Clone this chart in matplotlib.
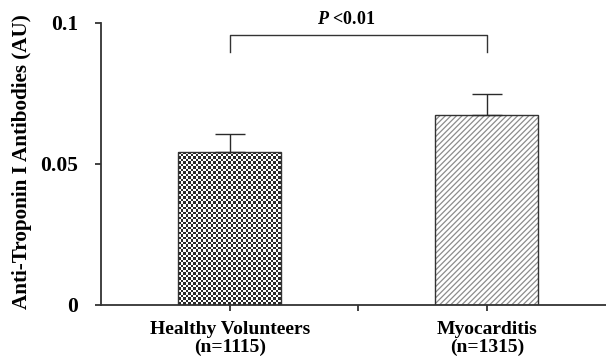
import numpy as np
import matplotlib
matplotlib.use("Agg")
import matplotlib.pyplot as plt

# Group means and upper standard errors (AU)
groups = ["Healthy Volunteers\n(n=1115)", "Myocarditis\n(n=1315)"]
means = [0.0543, 0.0673]
errors = [0.0063, 0.0076]
yticks = [0, 0.05, 0.1]
ytick_labels = ["0", "0.05", "0.1"]
p_label = r"$\mathbfit{P}$ <0.01"
bracket_top = 0.0956
bracket_leg = 0.0897

plt.rcParams["font.family"] = ["Liberation Serif", "DejaVu Serif"]
plt.rcParams["font.weight"] = "bold"
plt.rcParams["mathtext.fontset"] = "custom"
plt.rcParams["mathtext.bfit"] = "Liberation Serif:bold:italic"
plt.rcParams["hatch.linewidth"] = 0.9

fig = plt.figure(figsize=(6.06, 3.56), dpi=100)
ax = fig.add_axes([0.1667, 0.1433, 0.8490, 0.7921])

x = np.arange(len(groups))
bar_w = 0.4
edge = "#333333"

ax.set_xlim(-0.5, 1.5)
ax.set_ylim(0, 0.1)

# Base bars (white), the second one carries a gray diagonal hatch
bars = ax.bar(x, means, width=bar_w, color="white", edgecolor=["white", "#8c8c8c"],
              linewidth=0.0, zorder=2)
bars[1].set_hatch("//////")

# Checkerboard fill for the first bar, clipped to the bar outline
b0 = bars[0]
fig.canvas.draw()
px_x = 1.0 / (ax.transData.transform((1, 0))[0] - ax.transData.transform((0, 0))[0])
px_y = 0.1 / (ax.transData.transform((0, 0.1))[1] - ax.transData.transform((0, 0))[1])
cell = 2.5
nx = int(round(b0.get_width() / (px_x * cell)))
ny = int(round(b0.get_height() / (px_y * cell)))
board = (np.add.outer(np.arange(ny), np.arange(nx)) % 2).astype(float)
img = ax.imshow(board, cmap=matplotlib.colors.ListedColormap(["#2a2a2a", "white"]),
                extent=(b0.get_x(), b0.get_x() + b0.get_width(), 0, b0.get_height()),
                aspect="auto", interpolation="nearest", zorder=2.5, origin="lower")
img.set_clip_path(b0)

# Dark outlines on top of both fills
ax.bar(x, means, width=bar_w, fill=False, edgecolor=edge, linewidth=1.0, zorder=3)

# One-sided error bars
ax.errorbar(x, means, yerr=[np.zeros(len(errors)), errors], fmt="none",
            ecolor="#2a2a2a", elinewidth=1.0, capsize=10.8, capthick=1.0, zorder=4)
ax.set_ylim(0, 0.1)
ax.set_xlim(-0.5, 1.5)

# Significance bracket
ax.plot([x[0], x[0], x[1], x[1]], [bracket_leg, bracket_top, bracket_top, bracket_leg],
        color="#333333", linewidth=1.0, clip_on=False)
ax.text((x[0] + x[1]) / 2 - 0.045, bracket_top + 0.0025, p_label,
        ha="center", va="bottom", fontsize=13, fontweight="bold")

# Axes styling
for side in ("top", "right"):
    ax.spines[side].set_visible(False)
for side in ("left", "bottom"):
    ax.spines[side].set_color("#333333")
    ax.spines[side].set_linewidth(1.3)

ax.set_yticks(yticks)
ax.set_yticklabels(ytick_labels, fontsize=15.5, fontweight="bold")
ax.tick_params(axis="y", direction="out", length=4.5, width=1.3, color="#333333", pad=12)

ax.set_xticks([0, 0.5, 1])
ax.set_xticklabels([groups[0], "", groups[1]], fontsize=14, fontweight="bold",
                   linespacing=1.05)
ax.tick_params(axis="x", direction="out", length=4.5, width=1.3, color="#333333", pad=7)

ax.set_ylabel("Anti-Troponin I Antibodies (AU)", fontsize=15.2, fontweight="bold")
ax.yaxis.set_label_coords(-0.135, 0.51)

fig.savefig("out.png", dpi=100)
